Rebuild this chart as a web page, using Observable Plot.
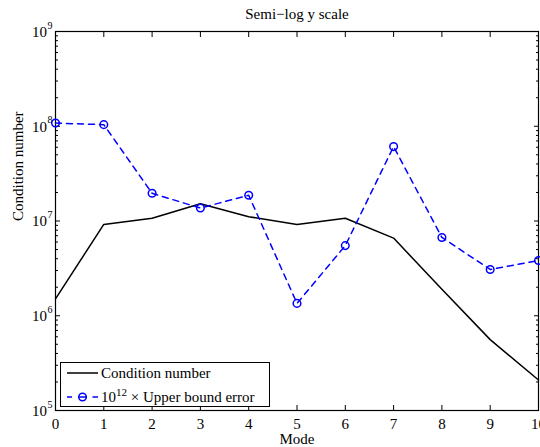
<!DOCTYPE html>
<html><head><meta charset="utf-8">
<script src="https://cdn.jsdelivr.net/npm/d3@7"></script>
<script src="https://cdn.jsdelivr.net/npm/@observablehq/plot@0.6"></script>
<style>
html,body{margin:0;padding:0;background:#fff;overflow:hidden}
#wrap{position:relative;width:540px;height:447px}
#wrap svg.plot{overflow:visible}
#legend{position:absolute;left:60px;top:362px;width:208px;height:43px;border:1px solid #000;background:#fff;font-family:"Liberation Serif",serif;font-size:15px;color:#000}
#legend .row{position:absolute;left:0;height:20px;line-height:20px;white-space:nowrap}
#legend .row svg{position:absolute;left:0;top:0}
#legend .row span{position:absolute;left:40px;top:0}
#legend sup{font-size:11px;vertical-align:6px;line-height:0}
</style>
</head><body>
<div id="wrap"></div>
<script>
const modes = [0,1,2,3,4,5,6,7,8,9,10];
const conditionNumber = [1.51e6, 9.2e6, 1.07e7, 1.52e7, 1.11e7, 9.2e6, 1.07e7, 6.6e6, 1.9e6, 5.6e5, 2.1e5];
const upperBoundError = [1.08e8, 1.04e8, 1.96e7, 1.37e7, 1.87e7, 1.35e6, 5.5e6, 6.1e7, 6.7e6, 3.08e6, 3.83e6];
const xTicks = [0,1,2,3,4,5,6,7,8,9,10];
const yExponents = [5,6,7,8,9];
const yMinorFactors = [2,3,4,5,6,7,8,9];
const titleText = "Semi\u2212log y scale";
const xLabel = "Mode";
const yLabel = "Condition number";

const yMajor = yExponents.map(e => Math.pow(10, e));
const yMinor = yExponents.slice(0, -1).flatMap(e => yMinorFactors.map(f => f * Math.pow(10, e)));
const data = modes.map((m, i) => ({mode: m, cond: conditionNumber[i], err: upperBoundError[i]}));

const chart = Plot.plot({
  width: 540, height: 447,
  marginLeft: 55, marginRight: 2, marginTop: 31, marginBottom: 37,
  style: {fontFamily: "Liberation Serif, serif", fontSize: "15px", background: "white", color: "black", overflow: "visible"},
  x: {domain: [0, 10]},
  y: {type: "log", domain: [1e5, 1e9]},
  marks: [
    Plot.frame({stroke: "black", strokeWidth: 1.2}),
    // inward ticks
    Plot.axisX({anchor: "bottom", ticks: xTicks, tickSize: -5, fill: "none", label: null}),
    Plot.axisX({anchor: "top", ticks: xTicks, tickSize: -5, fill: "none", label: null}),
    Plot.axisY({anchor: "left", ticks: yMajor, tickSize: -5, fill: "none", label: null}),
    Plot.axisY({anchor: "right", ticks: yMajor, tickSize: -5, fill: "none", label: null}),
    Plot.axisY({anchor: "left", ticks: yMinor, tickSize: -3, fill: "none", label: null}),
    Plot.axisY({anchor: "right", ticks: yMinor, tickSize: -3, fill: "none", label: null}),
    // tick labels
    Plot.text(xTicks, {x: d => d, text: d => String(d), frameAnchor: "bottom", lineAnchor: "middle", dy: 13.7, fill: "black"}),
    Plot.text(yMajor, {y: d => d, text: () => "10", frameAnchor: "left", textAnchor: "end", lineAnchor: "middle", dx: -8.5, dy: 0.5, fill: "black"}),
    Plot.text(yExponents, {y: e => Math.pow(10, e), text: e => String(e), frameAnchor: "left", textAnchor: "start", lineAnchor: "middle", dx: -8, dy: -6, fontSize: 10, fill: "black"}),
    // title and labels
    Plot.text([titleText], {text: d => d, frameAnchor: "top", lineAnchor: "middle", dy: -17.3, fill: "black"}),
    Plot.text([xLabel], {text: d => d, frameAnchor: "bottom", lineAnchor: "middle", dy: 28.7, fill: "black"}),
    Plot.text([yLabel], {text: d => d, frameAnchor: "left", lineAnchor: "middle", rotate: -90, dx: -37, fill: "black"}),
    // data
    Plot.line(data, {x: "mode", y: "cond", stroke: "black", strokeWidth: 1.5}),
    Plot.line(data, {x: "mode", y: "err", stroke: "#0000ff", strokeWidth: 1.5, strokeDasharray: "6,5"}),
    Plot.dot(data, {x: "mode", y: "err", r: 3.8, stroke: "#0000ff", strokeWidth: 1.5, fill: "none"})
  ]
});
chart.classList.add("plot");
document.getElementById("wrap").appendChild(chart);

const legend = document.createElement("div");
legend.id = "legend";
legend.innerHTML = `
  <div class="row" style="top:0px">
    <svg width="40" height="20"><line x1="6" y1="10" x2="37" y2="10" stroke="black" stroke-width="1.5"/></svg>
    <span>Condition number</span>
  </div>
  <div class="row" style="top:24px">
    <svg width="40" height="20">
      <line x1="6" y1="10" x2="11" y2="10" stroke="#0000ff" stroke-width="1.5"/>
      <line x1="17.5" y1="10" x2="26" y2="10" stroke="#0000ff" stroke-width="1.5"/>
      <circle cx="21.5" cy="10" r="3.8" fill="none" stroke="#0000ff" stroke-width="1.5"/>
      <line x1="31.5" y1="10" x2="37" y2="10" stroke="#0000ff" stroke-width="1.5"/>
    </svg>
    <span>10<sup>12</sup>&nbsp;\u00d7 Upper bound error</span>
  </div>`;
document.getElementById("wrap").appendChild(legend);
</script>
</body></html>
